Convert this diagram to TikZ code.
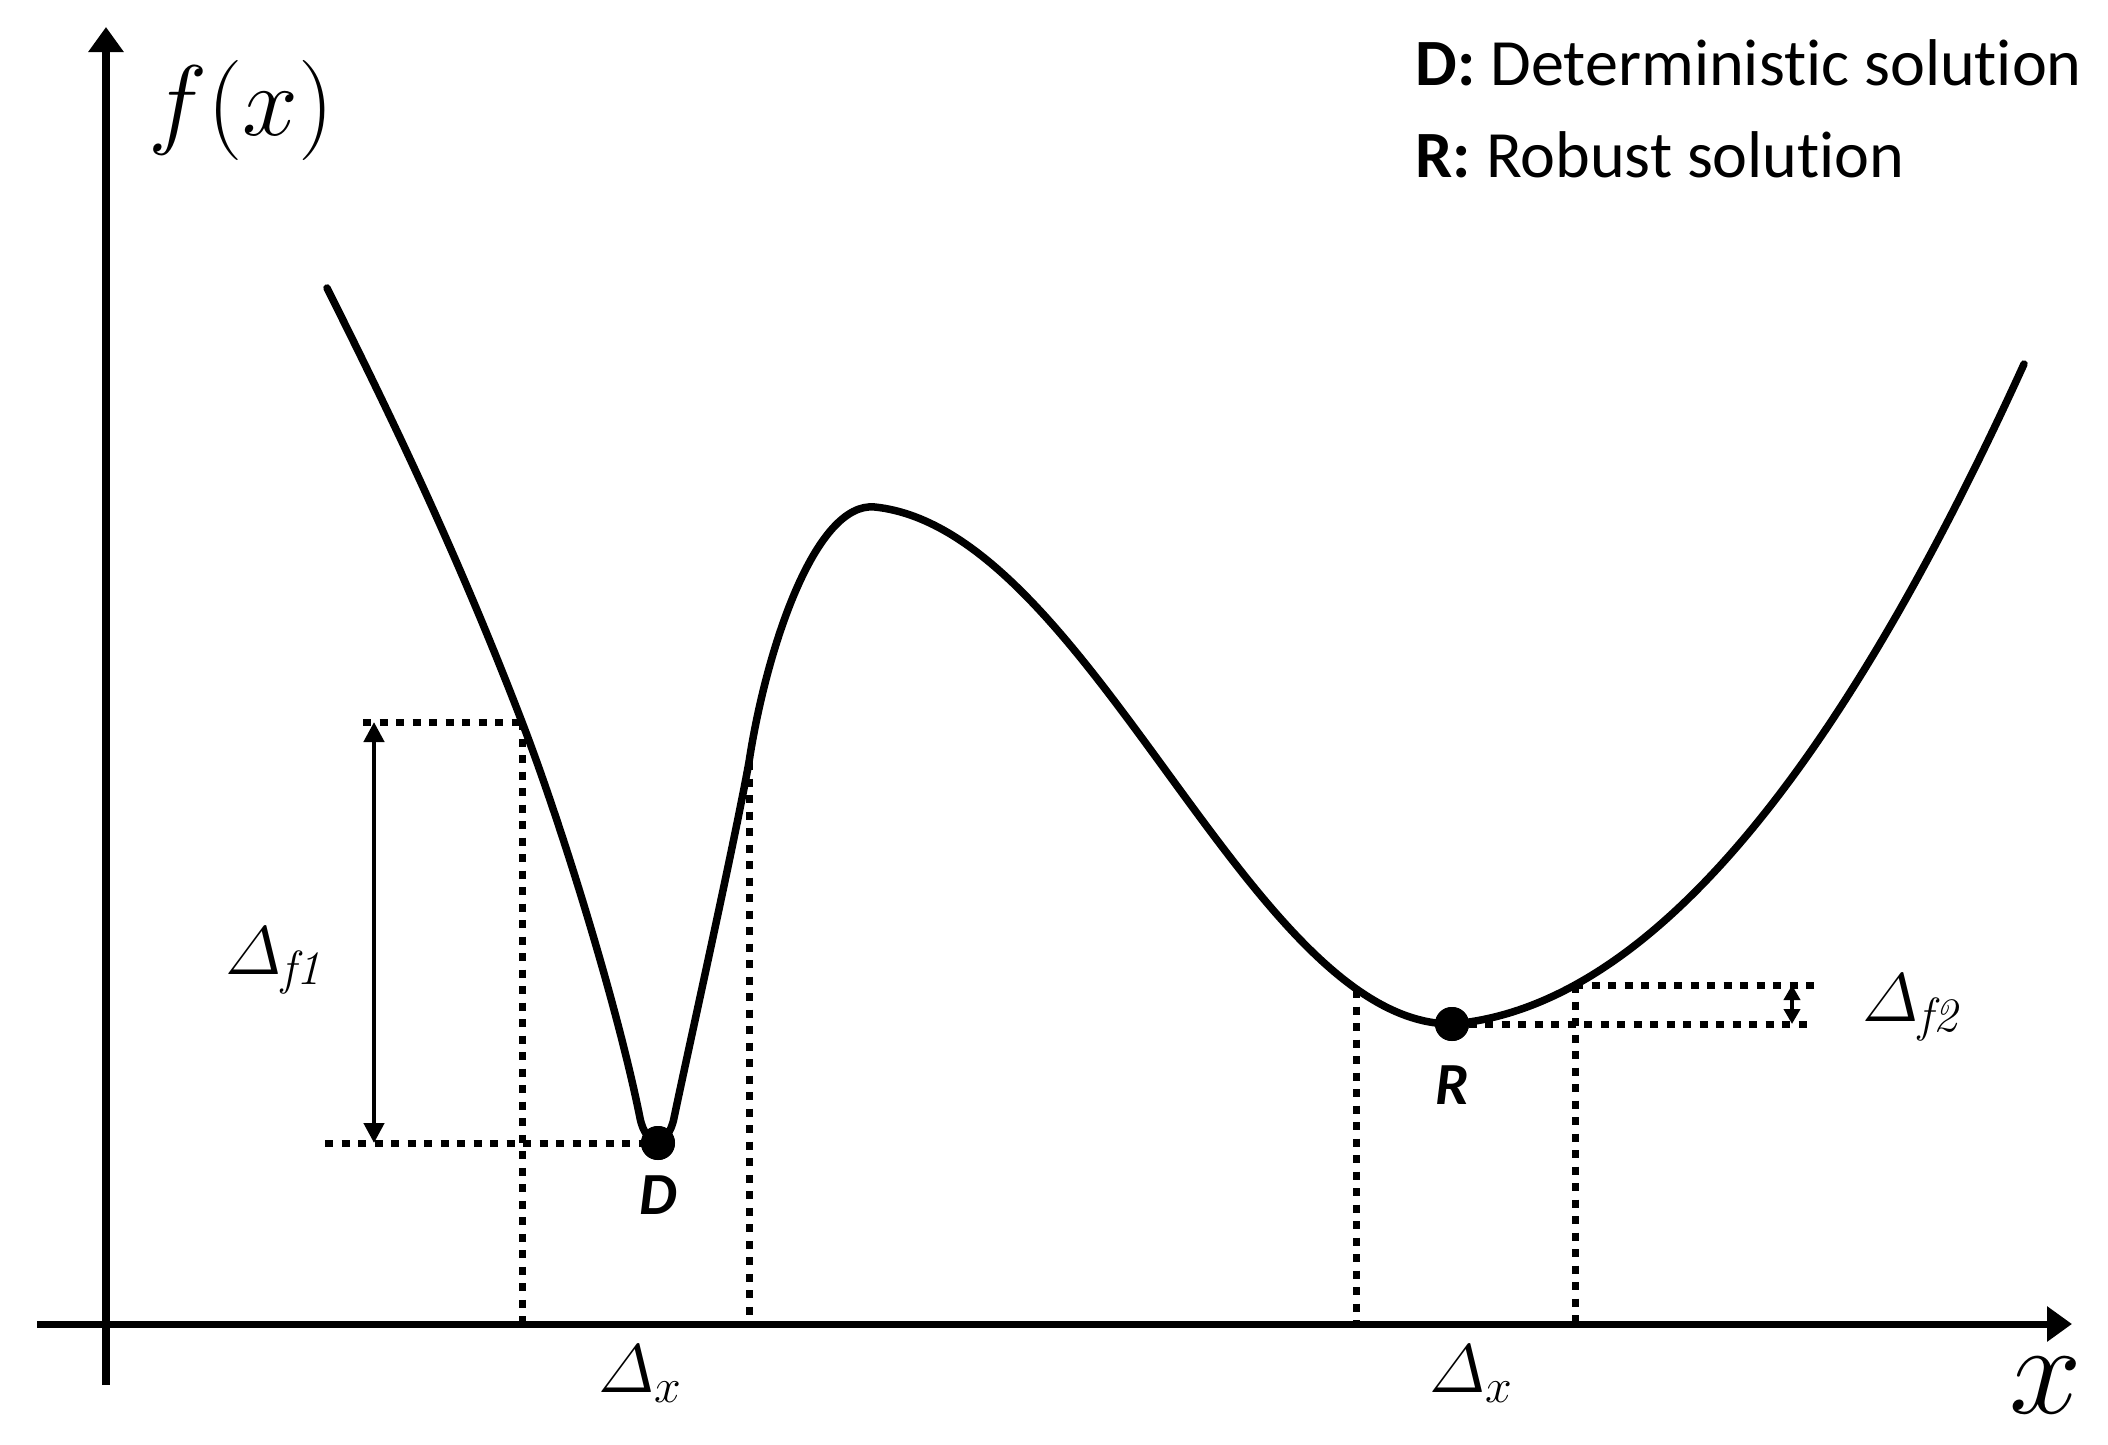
\RequirePackage{fix-cm}
\documentclass[tikz,border=0pt]{standalone}
\usepackage{amsmath}
\usepackage{fontspec}
\newfontfamily\carlito[Ligatures=NoCommon]{Carlito}
\usetikzlibrary{arrows.meta}
\begin{document}
\begin{tikzpicture}[x=0.01cm,y=-0.01cm,
  axis/.style={line width=0.07cm, -{Triangle[width=0.34cm,length=0.25cm]}},
  curve/.style={line width=0.075cm, line join=round, line cap=round},
  dotline/.style={line width=0.07cm, dash pattern=on 0.08cm off 0.085cm},
  dimarrow/.style={line width=0.045cm, {Triangle[width=0.2cm,length=0.2cm]}-{Triangle[width=0.2cm,length=0.2cm]}},
  smallarrow/.style={line width=0.04cm, {Triangle[width=0.16cm,length=0.15cm]}-{Triangle[width=0.16cm,length=0.15cm]}},
  dotpt/.style={circle, fill=black, inner sep=0pt, minimum size=0.34cm},
  ptlabel/.style={font=\carlito\bfseries\itshape\fontsize{17}{20}\selectfont, inner sep=0pt},
  legend/.style={font=\carlito\fontsize{18.8}{22}\selectfont, anchor=west, inner sep=0pt},
  dlabel/.style={font=\fontsize{19.5}{22}\selectfont, inner sep=0pt}]

\useasboundingbox (0,0) rectangle (2108,1445);

% axes
\coordinate (ybot) at (106,1385);
\coordinate (ytop) at (106,27);
\coordinate (xl) at (37,1324);
\coordinate (xr) at (2072,1324);
\draw[axis] (ybot) -- (ytop);
\draw[axis] (xl) -- (xr);

% key points of the curve
\coordinate (S) at (327,288);
\coordinate (c1) at (522,722);
\coordinate (c2) at (749,762);
\coordinate (P) at (875,507);
\coordinate (c3) at (1356,990);
\coordinate (c4) at (1575,985);
\coordinate (E) at (2024,364);

\node[dotpt] (D) at (658,1143) {};
\node[dotpt] (R) at (1452,1024) {};

% curve
\draw[curve] (S) .. controls (392,418) and (457,553) .. (c1)
  .. controls (562,826) and (618,1008) .. (640,1118)
  .. controls (646,1148) and (668,1148) .. (674,1118)
  .. controls (686,1060) and (734,845) .. (c2)
  .. controls (766,650) and (815,501) .. (P)
  .. controls (1090,530) and (1250,1024) .. (R.center)
  .. controls (1643,1008) and (1833,784) .. (E);

% dotted guide lines
\coordinate (h1a) at (363,722);
\coordinate (x1) at (522,1324);
\coordinate (h2a) at (325,1143);
\coordinate (x2) at (749,1324);
\coordinate (x3) at (1356,1324);
\coordinate (x4) at (1575,1324);
\coordinate (h4b) at (1815,985);
\coordinate (h5b) at (1815,1024);

\draw[dotline] (h1a) -- (c1);
\draw[dotline] (c1) -- (x1);
\draw[dotline] (h2a) -- (D.center);
\draw[dotline] (c2) -- (x2);
\draw[dotline] (c3) -- (x3);
\draw[dotline] (c4) -- (x4);
\draw[dotline] (c4) -- (h4b);
\draw[dotline] (R.center) -- (h5b);

\node[dotpt] at (D) {};
\node[dotpt] at (R) {};

% dimension arrows
\coordinate (a1t) at (374,722);
\coordinate (a1b) at (374,1143);
\draw[dimarrow] (a1t) -- (a1b);
\coordinate (a2t) at (1792,985);
\coordinate (a2b) at (1792,1024);
\draw[smallarrow] (a2t) -- (a2b);

% labels
\node[ptlabel] (Dl) at (658,1195) {D};
\node[ptlabel] (Rl) at (1452,1085) {R};
\node[dlabel] (df1) at (274,961) {$\varDelta_{\mathit{f1}}$};
\node[dlabel] (df2) at (1911,1008) {$\varDelta_{\mathit{f2}}$};
\node[dlabel] (dx1) at (641,1374) {$\varDelta_x$};
\node[dlabel] (dx2) at (1472,1374) {$\varDelta_x$};
\node[font=\fontsize{28.5}{32}\selectfont, inner sep=0pt] (fx) at (241,110) {$f(x)$};
\node[font=\fontsize{37}{40}\selectfont, inner sep=0pt] (xlab) at (2046,1385) {$x$};

\node[legend] (leg1) at (1415,63) {\textbf{D:} Deterministic solution};
\node[legend] (leg2) at (1415,155) {\textbf{R:} Robust solution};
\end{tikzpicture}
\end{document}
